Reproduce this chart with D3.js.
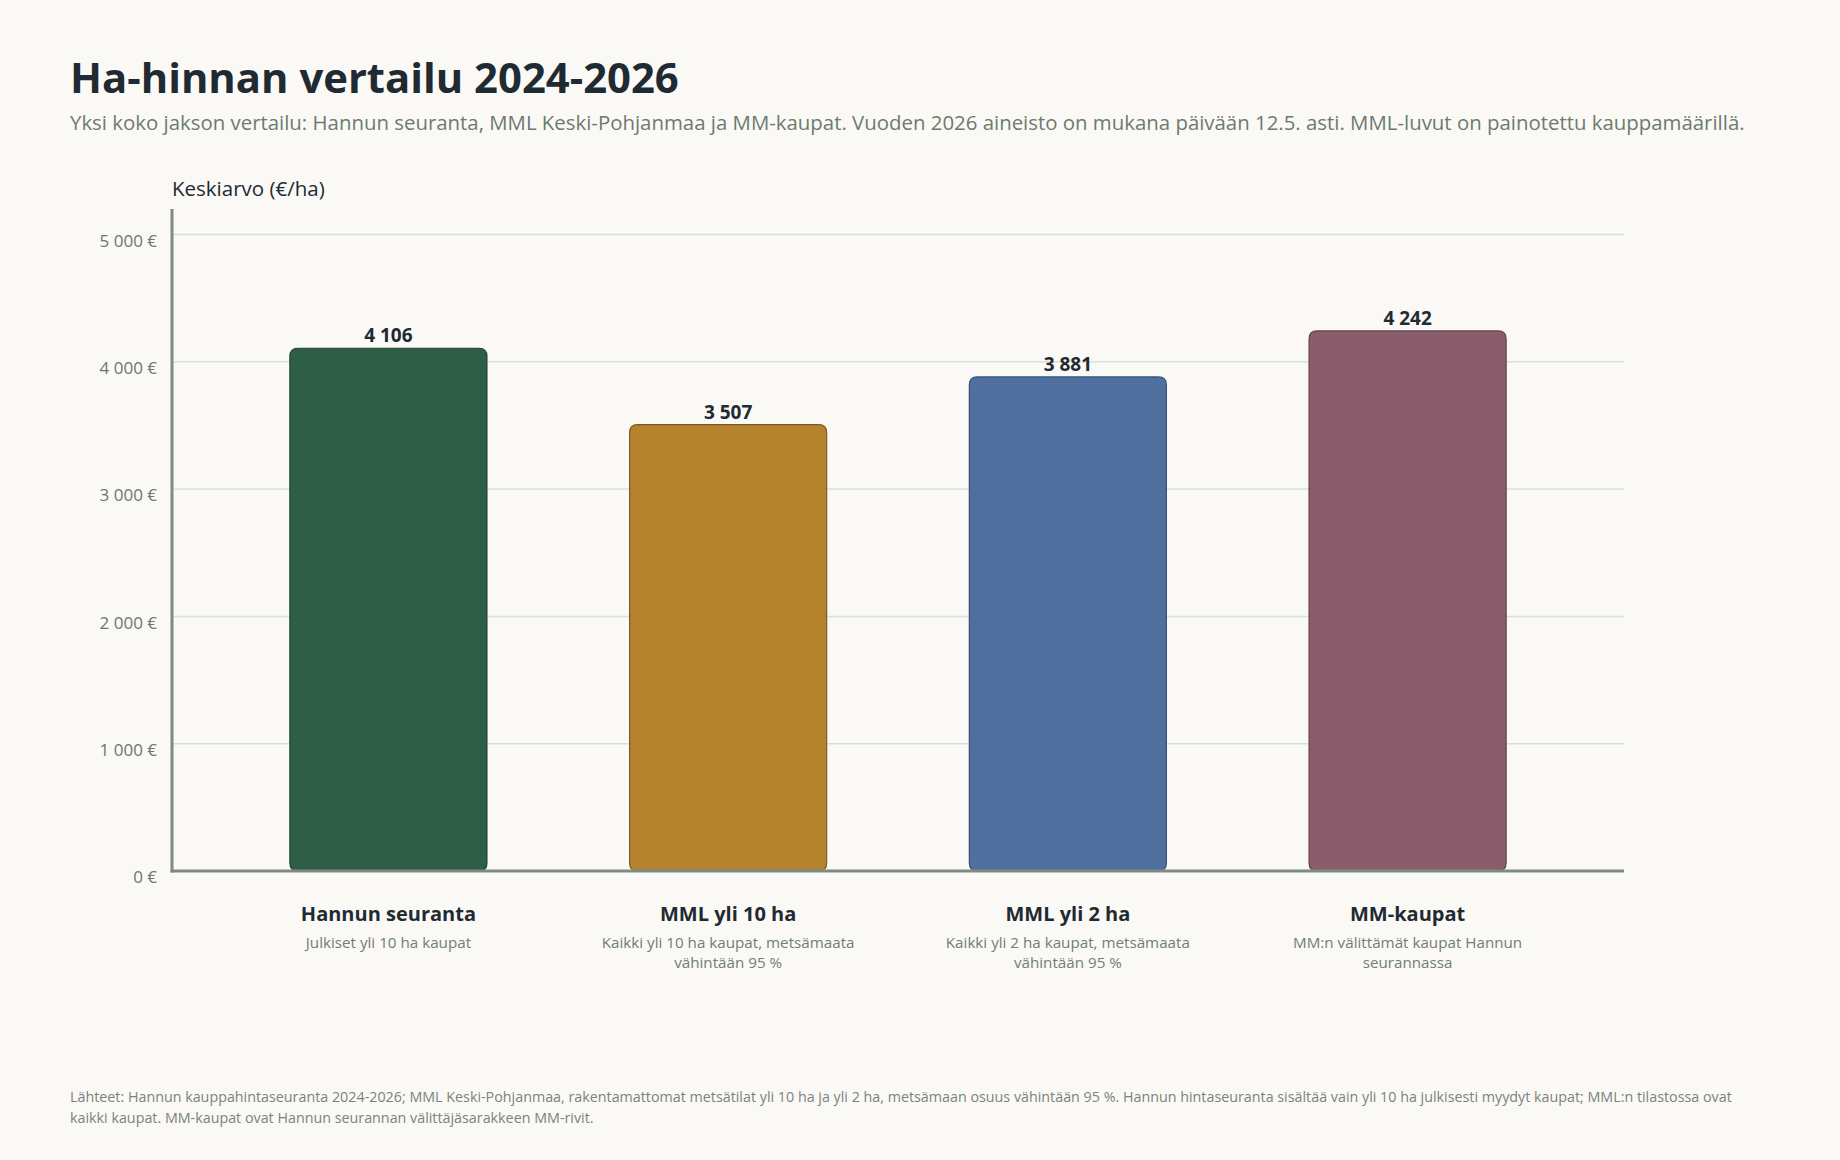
<!DOCTYPE html>
<html lang="fi">
<head>
<meta charset="UTF-8">
<title>Ha-hinnan vertailu 2024-2026</title>
<style>
  html, body { margin: 0; padding: 0; background: #faf9f5; }
  svg { display: block; font-family: "Open Sans", "Noto Sans", sans-serif; }
  .grid line { stroke: #dcdfd8; stroke-width: 1.5; }
  .tick text { fill: #6b776e; font-size: 17px; font-family: "Open Sans", "Noto Sans", sans-serif; }
</style>
</head>
<body>
<svg id="chart" width="1840" height="1160"></svg>
<script src="https://d3js.org/d3.v7.min.js"></script>
<script>
// data
const categories = ["Hannun seuranta", "MML yli 10 ha", "MML yli 2 ha", "MM-kaupat"];
const subLabels = [
  ["Julkiset yli 10 ha kaupat"],
  ["Kaikki yli 10 ha kaupat, metsämaata", "vähintään 95 %"],
  ["Kaikki yli 2 ha kaupat, metsämaata", "vähintään 95 %"],
  ["MM:n välittämät kaupat Hannun", "seurannassa"]
];
const values = [4106, 3507, 3881, 4242];
const yTicks = [0, 1000, 2000, 3000, 4000, 5000];
const barColors = ["#2f5e46", "#b5822e", "#4f6f9e", "#8a5d6d"];
const barStrokes = ["#1f4230", "#7e5a1d", "#34507a", "#633f4d"];

const svg = d3.select("#chart");
const margin = { top: 209, left: 172, right: 216, bottom: 289 };
const W = 1840, H = 1160;
const fmt = v => d3.format(",")(v).replace(/,/g, " ");

// title & subtitle
svg.append("text")
  .attr("x", 70).attr("y", 93)
  .attr("font-size", 41.8).attr("font-weight", 700).attr("fill", "#1f2a33")
  .text("Ha-hinnan vertailu 2024-2026");
svg.append("text")
  .attr("x", 70).attr("y", 130)
  .attr("font-size", 20.4).attr("fill", "#6d7a70")
  .text("Yksi koko jakson vertailu: Hannun seuranta, MML Keski-Pohjanmaa ja MM-kaupat. Vuoden 2026 aineisto on mukana päivään 12.5. asti. MML-luvut on painotettu kauppamäärillä.");

const x = d3.scaleBand()
  .domain(categories)
  .range([margin.left, W - margin.right])
  .paddingInner(0.42)
  .paddingOuter(0.347);

const y = d3.scaleLinear()
  .domain([0, 5200])
  .range([H - margin.bottom, margin.top]);

// gridlines
svg.append("g")
  .attr("class", "grid")
  .selectAll("line")
  .data(yTicks.filter(d => d > 0))
  .join("line")
  .attr("x1", margin.left).attr("x2", W - margin.right)
  .attr("y1", d => y(d)).attr("y2", d => y(d));

// y axis labels
const yAxis = svg.append("g")
  .attr("transform", `translate(${margin.left},0)`)
  .call(d3.axisLeft(y).tickValues(yTicks).tickSize(0).tickPadding(15).tickFormat(d => fmt(d) + " €"));
yAxis.select(".domain").remove();
yAxis.selectAll(".tick text").attr("dy", "0.7em");

svg.append("text")
  .attr("x", margin.left).attr("y", 196)
  .attr("font-size", 20.5).attr("fill", "#1f2a33")
  .text("Keskiarvo (€/ha)");

// bars
const r = 8;
function barPath(x0, y0, w, h) {
  return `M${x0},${y0 + r} Q${x0},${y0} ${x0 + r},${y0} L${x0 + w - r},${y0} Q${x0 + w},${y0} ${x0 + w},${y0 + r}
    L${x0 + w},${y0 + h - r} Q${x0 + w},${y0 + h} ${x0 + w - r},${y0 + h} L${x0 + r},${y0 + h} Q${x0},${y0 + h} ${x0},${y0 + h - r} Z`;
}
svg.append("g")
  .selectAll("path")
  .data(values)
  .join("path")
  .attr("d", (d, i) => barPath(x(categories[i]), y(d), x.bandwidth(), y(0) - y(d)))
  .attr("fill", (d, i) => barColors[i])
  .attr("stroke", (d, i) => barStrokes[i])
  .attr("stroke-width", 1.2);

// axes lines
svg.append("line")
  .attr("x1", margin.left).attr("x2", margin.left)
  .attr("y1", margin.top).attr("y2", y(0) + 1.5)
  .attr("stroke", "#7f8b82").attr("stroke-width", 3);
svg.append("line")
  .attr("x1", margin.left - 1.5).attr("x2", W - margin.right)
  .attr("y1", y(0)).attr("y2", y(0))
  .attr("stroke", "#7f8b82").attr("stroke-width", 3);

// value labels
svg.append("g")
  .selectAll("text")
  .data(values)
  .join("text")
  .attr("x", (d, i) => x(categories[i]) + x.bandwidth() / 2)
  .attr("y", d => y(d) - 6)
  .attr("text-anchor", "middle")
  .attr("font-size", 19).attr("font-weight", 700).attr("fill", "#1f2a33")
  .text(d => fmt(d));

// category labels
const cat = svg.append("g")
  .selectAll("g")
  .data(categories)
  .join("g")
  .attr("transform", d => `translate(${x(d) + x.bandwidth() / 2},0)`);
cat.append("text")
  .attr("y", 921).attr("text-anchor", "middle")
  .attr("font-size", 20).attr("font-weight", 700).attr("fill", "#1f2a33")
  .text(d => d);
cat.each(function (d, i) {
  d3.select(this).selectAll("text.sub")
    .data(subLabels[i])
    .join("text")
    .attr("class", "sub")
    .attr("y", (s, j) => 948 + j * 20)
    .attr("text-anchor", "middle")
    .attr("font-size", 15.2).attr("fill", "#727d75")
    .text(s => s);
});

// footer
const footer = [
  "Lähteet: Hannun kauppahintaseuranta 2024-2026; MML Keski-Pohjanmaa, rakentamattomat metsätilat yli 10 ha ja yli 2 ha, metsämaan osuus vähintään 95 %. Hannun hintaseuranta sisältää vain yli 10 ha julkisesti myydyt kaupat; MML:n tilastossa ovat",
  "kaikki kaupat. MM-kaupat ovat Hannun seurannan välittäjäsarakkeen MM-rivit."
];
svg.append("g")
  .selectAll("text")
  .data(footer)
  .join("text")
  .attr("x", 70).attr("y", (d, i) => 1102 + i * 21)
  .attr("font-size", 14.3).attr("fill", "#7a837c")
  .text(d => d);
</script>
</body>
</html>
